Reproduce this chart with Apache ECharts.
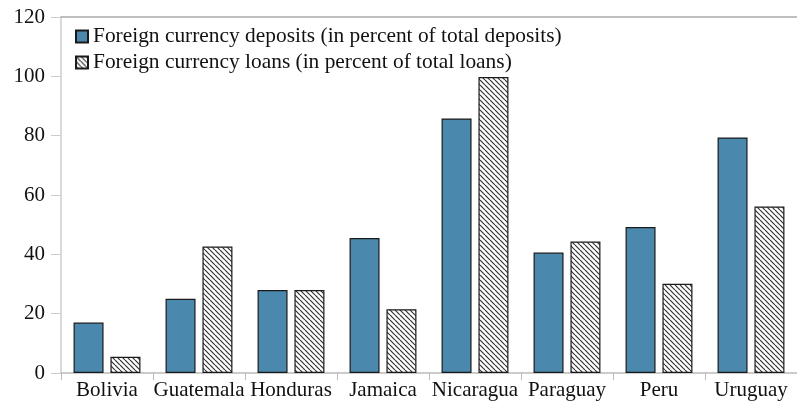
<!DOCTYPE html>
<html><head><meta charset="utf-8">
<script src="https://cdn.jsdelivr.net/npm/echarts@6/dist/echarts.min.js"></script>
<style>html,body{margin:0;padding:0;background:#fff}#c{width:797px;height:405px}</style>
</head><body><div id="c"></div>
<script>
var categories = ['Bolivia','Guatemala','Honduras','Jamaica','Nicaragua','Paraguay','Peru','Uruguay'];
var depositsName = 'Foreign currency deposits (in percent of total deposits)';
var loansName = 'Foreign currency loans (in percent of total loans)';
var deposits = [17.0, 25.0, 28.0, 45.5, 85.8, 40.6, 49.2, 79.4];
var loans = [5.5, 42.6, 28.0, 21.5, 99.8, 44.3, 30.1, 56.1];
var yTicks = {min: 0, max: 120, interval: 20};

function hatch(){
  var c = document.createElement('canvas');
  c.width = 5; c.height = 5;
  var g = c.getContext('2d');
  g.fillStyle = '#fff'; g.fillRect(0,0,5,5);
  g.strokeStyle = '#333'; g.lineWidth = 1.2;
  for (var k = -5; k <= 10; k += 5) {
    g.beginPath(); g.moveTo(k, 0); g.lineTo(k + 5, 5); g.stroke();
  }
  return c;
}
var hatchFill = {image: hatch(), repeat: 'repeat'};
var font = 'Liberation Serif';

var chart = echarts.init(document.getElementById('c'), null, {renderer: 'canvas'});
chart.setOption({
  animation: false,
  textStyle: {fontFamily: font},
  grid: {left: 61, right: -8, top: 17, bottom: 32},
  legend: {
    orient: 'vertical', left: 70, top: 21, itemGap: 5,
    itemWidth: 12, itemHeight: 12, icon: 'rect',
    textStyle: {fontFamily: font, fontSize: 21.4, color: '#111'},
    data: [depositsName, loansName]
  },
  xAxis: [{
    type: 'category', data: categories,
    axisLine: {lineStyle: {color: '#bbb', width: 1.5}},
    axisTick: {show: true, length: 7, lineStyle: {color: '#bbb'}},
    axisLabel: {fontFamily: font, fontSize: 21, color: '#111', margin: 7, interval: 0}
  }, {
    type: 'category', data: categories, position: 'top',
    axisLine: {show: true, lineStyle: {color: '#aaa', width: 1.5}},
    axisTick: {show: false}, axisLabel: {show: false}
  }],
  yAxis: {
    type: 'value', min: yTicks.min, max: yTicks.max, interval: yTicks.interval,
    axisLine: {show: true, lineStyle: {color: '#ccc', width: 1.5}},
    axisTick: {show: true, length: 10, lineStyle: {color: '#ccc'}},
    splitLine: {show: false},
    axisLabel: {fontFamily: font, fontSize: 21, color: '#111', margin: 16}
  },
  series: [{
    name: depositsName, type: 'bar', data: deposits,
    barWidth: 30, barGap: '23%',
    itemStyle: {color: '#4a89ad', borderColor: '#1a1a1a', borderWidth: 1.2}
  }, {
    name: loansName, type: 'bar', data: loans,
    barWidth: 30, barGap: '23%',
    itemStyle: {color: hatchFill, borderColor: '#1a1a1a', borderWidth: 1.2}
  }]
});
</script></body></html>
